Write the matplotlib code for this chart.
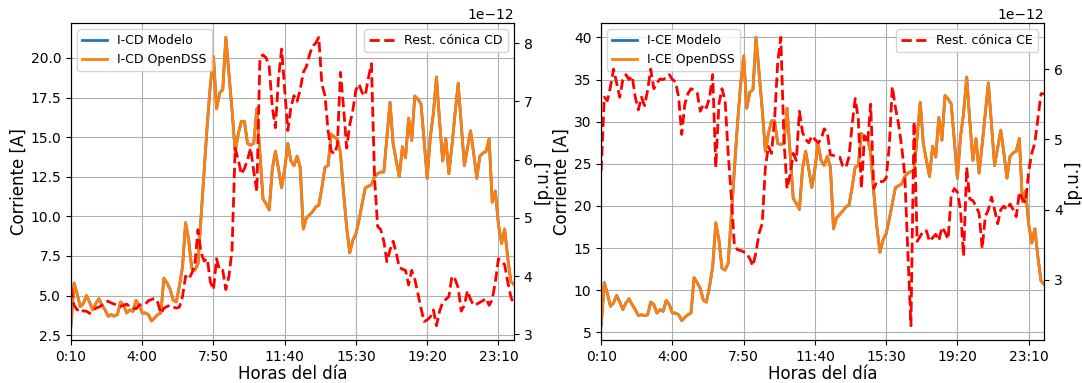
import numpy as np
import matplotlib
matplotlib.use("Agg")
import matplotlib.pyplot as plt

# 144 muestras cada 10 minutos (0:10 ... 24:00)
tick_pos = [0, 23, 46, 69, 92, 115, 138]
tick_lbl = ["0:10", "4:00", "7:50", "11:40", "15:30", "19:20", "23:10"]

i_cd_opendss = [3.1, 5.8, 5.1, 4.3, 4.5, 5.0, 4.6, 4.1, 4.5, 4.8,
                4.4, 4.1, 3.7, 3.8, 3.7, 3.8, 4.6, 4.4, 3.9, 4.1,
                4.0, 4.7, 4.4, 3.9, 3.9, 3.8, 3.4, 3.6, 3.8, 3.9,
                6.1, 5.8, 5.4, 4.7, 4.6, 5.6, 6.8, 9.6, 8.5, 6.7,
                6.6, 7.0, 10.0, 12.9, 15.8, 18.3, 20.1, 16.8, 17.8, 18.0,
                21.3, 19.0, 16.7, 14.1, 15.2, 16.0, 16.0, 14.6, 14.5, 14.6,
                16.8, 14.0, 11.1, 10.8, 10.4, 13.0, 14.1, 13.0, 11.8, 13.0,
                14.6, 13.5, 13.2, 13.8, 13.1, 9.2, 9.9, 10.1, 10.3, 10.6,
                10.7, 11.8, 13.1, 13.2, 15.2, 15.0, 14.9, 14.0, 11.5, 9.3,
                7.7, 8.5, 8.9, 9.8, 10.8, 11.8, 11.9, 12.0, 12.5, 12.7,
                12.8, 12.8, 15.0, 17.2, 14.6, 13.5, 12.5, 14.4, 13.7, 16.2,
                14.8, 17.6, 17.4, 17.1, 14.8, 12.4, 15.0, 16.5, 18.8, 16.0,
                13.5, 14.9, 12.7, 14.5, 16.5, 18.4, 15.8, 13.2, 14.3, 15.4,
                14.0, 12.4, 13.8, 14.0, 14.1, 14.9, 10.9, 11.6, 9.5, 8.3,
                9.2, 7.4, 5.9, 5.7]
i_cd_modelo = list(i_cd_opendss)

# restriccion conica CD, en unidades de 1e-12
rc_cd = [3.8, 3.5, 3.42, 3.45, 3.4, 3.4, 3.36, 3.4, 3.45, 3.47,
         3.5, 3.55, 3.57, 3.54, 3.52, 3.5, 3.48, 3.5, 3.52, 3.47,
         3.45, 3.44, 3.5, 3.52, 3.52, 3.58, 3.6, 3.62, 3.55, 3.36,
         3.45, 3.48, 3.5, 3.47, 3.45, 3.47, 3.65, 4.0, 3.95, 4.05,
         4.2, 4.8, 4.4, 4.26, 4.3, 3.9, 3.77, 4.3, 4.1, 4.1,
         3.77, 4.0, 4.45, 6.2, 6.0, 5.75, 5.85, 6.0, 6.2, 5.8,
         5.45, 7.75, 7.8, 7.75, 7.6, 6.9, 6.55, 7.4, 7.9, 7.2,
         6.5, 6.9, 7.1, 7.0, 7.2, 7.5, 7.6, 7.8, 7.95, 8.0,
         8.1, 7.3, 7.1, 6.5, 6.15, 6.1, 6.25, 7.5, 6.9, 6.2,
         6.6, 6.85, 7.2, 7.3, 7.15, 7.1, 7.4, 7.65, 5.7, 4.85,
         4.8, 4.6, 4.25, 4.45, 4.6, 4.4, 4.15, 4.12, 4.1, 3.85,
         4.1, 3.95, 3.7, 3.45, 3.22, 3.25, 3.3, 3.42, 3.15, 3.4,
         3.55, 3.6, 3.65, 4.0, 3.95, 3.8, 3.4, 3.5, 3.75, 3.6,
         3.5, 3.52, 3.55, 3.58, 3.62, 3.5, 3.6, 3.9, 4.3, 4.25,
         4.2, 3.9, 3.65, 3.5]

i_ce_opendss = [5.8, 10.9, 9.6, 8.1, 8.5, 9.4, 8.6, 7.7, 8.5, 9.0,
                8.3, 7.7, 7.0, 7.1, 7.0, 7.1, 8.6, 8.3, 7.3, 7.7,
                7.5, 8.8, 8.3, 7.3, 7.3, 7.1, 6.4, 6.8, 7.1, 7.3,
                11.5, 10.9, 10.2, 8.8, 8.6, 10.5, 12.8, 18.0, 16.0, 12.6,
                12.4, 13.2, 18.8, 24.3, 29.7, 34.4, 37.8, 31.6, 33.5, 33.8,
                40.0, 35.7, 31.4, 26.5, 28.6, 30.1, 30.1, 27.4, 27.3, 27.4,
                31.6, 26.3, 20.9, 20.3, 19.6, 24.4, 26.5, 24.4, 22.2, 24.4,
                27.4, 25.4, 24.8, 25.9, 24.6, 17.3, 18.6, 19.0, 19.4, 19.9,
                20.1, 22.2, 24.6, 24.8, 28.6, 28.2, 28.0, 26.3, 21.6, 17.5,
                14.5, 16.0, 16.7, 18.4, 20.3, 22.2, 22.4, 22.6, 23.5, 23.9,
                24.1, 24.1, 28.2, 32.3, 27.4, 25.4, 23.5, 27.1, 25.8, 30.5,
                27.8, 33.1, 32.7, 32.1, 27.8, 23.3, 28.2, 31.0, 35.3, 30.1,
                25.4, 28.0, 23.9, 27.3, 31.0, 34.6, 29.7, 24.8, 26.9, 29.0,
                26.3, 23.3, 25.9, 26.3, 26.5, 28.0, 20.5, 21.8, 17.9, 15.6,
                17.3, 13.9, 11.1, 10.7]
i_ce_modelo = list(i_ce_opendss)

rc_ce = [4.55, 5.6, 5.55, 5.75, 6.0, 5.8, 5.6, 5.85, 5.92, 5.85,
         5.9, 5.6, 5.42, 5.6, 5.48, 5.7, 6.0, 5.72, 5.8, 5.86,
         5.85, 5.88, 5.92, 5.85, 5.82, 5.6, 5.07, 5.5, 5.65, 5.72,
         5.7, 5.66, 5.4, 5.5, 5.45, 5.6, 5.92, 4.6, 5.5, 5.72,
         5.55, 4.8, 4.2, 3.5, 3.43, 3.42, 3.4, 3.38, 3.3, 3.2,
         3.4, 3.67, 3.8, 4.6, 4.9, 4.8, 5.3, 6.1, 6.45, 5.0,
         4.3, 4.5, 4.8, 4.7, 5.4, 5.1, 5.0, 4.95, 5.05, 5.0,
         4.95, 5.0, 5.15, 5.1, 4.78, 4.77, 4.76, 4.75, 4.62, 4.6,
         4.75, 5.2, 5.58, 5.3, 4.3, 5.05, 4.95, 5.5, 4.3, 4.4,
         4.4, 4.4, 4.45, 4.9, 5.75, 5.45, 5.22, 4.9, 4.5, 3.4,
         2.35, 5.25, 3.55, 3.62, 3.7, 3.7, 3.55, 3.6, 3.65, 3.56,
         3.75, 3.68, 3.58, 4.2, 4.3, 4.25, 4.0, 3.34, 4.6, 4.15,
         4.13, 4.05, 3.95, 3.45, 3.9, 4.0, 4.18, 4.0, 3.8, 4.0,
         4.05, 4.0, 4.08, 4.0, 3.9, 4.25, 4.15, 4.1, 4.54, 4.8,
         4.95, 5.3, 5.65, 5.65]

x = np.arange(len(i_cd_opendss))

fig, axes = plt.subplots(1, 2, figsize=(10.82, 3.83), dpi=100)
fig.subplots_adjust(left=0.0656, right=0.965, bottom=0.112, top=0.94, wspace=0.197)

paneles = [
    (axes[0], i_cd_modelo, i_cd_opendss, rc_cd, "CD"),
    (axes[1], i_ce_modelo, i_ce_opendss, rc_ce, "CE"),
]

for ax, modelo, opendss, rc, nombre in paneles:
    ax.plot(x, modelo, color="C0", lw=2, label="I-" + nombre + " Modelo")
    ax.plot(x, opendss, color="C1", lw=2, label="I-" + nombre + " OpenDSS")
    ax.set_xlim(0, 143)
    ax.set_xticks(tick_pos)
    ax.set_xticklabels(tick_lbl)
    ax.grid(True)
    ax.set_xlabel("Horas del día", fontsize=12, labelpad=1)
    ax.set_ylabel("Corriente [A]", fontsize=12, labelpad=2)
    ax.legend(loc="upper left", fontsize=9)

    ax2 = ax.twinx()
    ax2.plot(x, np.array(rc) * 1e-12, "r--", lw=2, label="Rest. cónica " + nombre)
    ax2.set_ylabel("[p.u.]", fontsize=12, labelpad=1)
    ax2.legend(loc="upper right", fontsize=9)

plt.savefig("out.png", dpi=100)
plt.close()
